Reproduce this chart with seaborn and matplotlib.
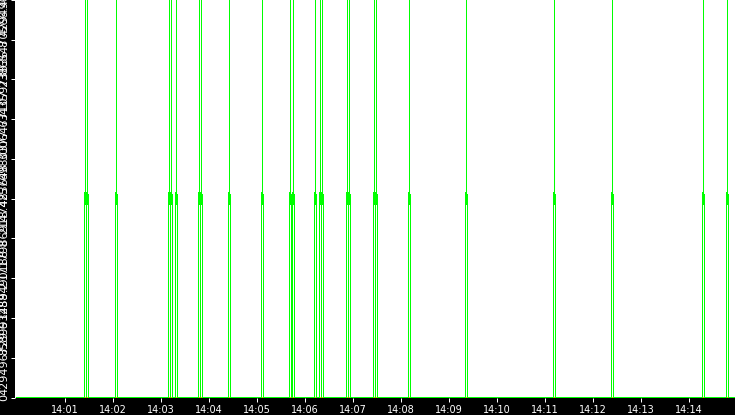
import matplotlib
matplotlib.use("Agg")
import matplotlib.pyplot as plt
import pandas as pd
import seaborn as sns

# counter value that keeps showing up as spikes (2^32)
WRAP = 4294967296

# green series: seconds after 14:00:00 and value (polled every 1.25 s)
in_sec = [0,
          85, 86.25, 87.5, 88.75, 90,
          123.75, 125, 126.25,
          190, 191.25, 192.5, 193.75, 195,
          198.75, 200, 201.25,
          227.5, 228.75, 230, 231.25, 232.5,
          265, 266.25, 267.5,
          306.25, 307.5, 308.75,
          341.25, 342.5, 343.75, 345, 346.25, 347.5,
          372.5, 373.75, 375,
          378.75, 380, 381.25, 382.5, 383.75,
          412.5, 413.75, 415, 416.25, 417.5,
          446.25, 447.5, 448.75, 450, 451.25,
          490, 491.25, 492.5,
          561.25, 562.5, 563.75,
          671.25, 672.5, 673.75,
          743.75, 745, 746.25,
          857.5, 858.75, 860,
          887.5, 888.75, 890,
          900]
in_val = [0,
          0, WRAP, 0, WRAP, 0,
          0, WRAP, 0,
          0, WRAP, 0, WRAP, 0,
          0, WRAP, 0,
          0, WRAP, 0, WRAP, 0,
          0, WRAP, 0,
          0, WRAP, 0,
          0, WRAP, 0, 0, WRAP, 0,
          0, WRAP, 0,
          0, WRAP, 0, WRAP, 0,
          0, WRAP, 0, WRAP, 0,
          0, WRAP, 0, WRAP, 0,
          0, WRAP, 0,
          0, WRAP, 0,
          0, WRAP, 0,
          0, WRAP, 0,
          0, WRAP, 0,
          0, WRAP, 0,
          0]

# orange series sits at zero the whole time
out_sec = [0, 900]
out_val = [0, 0]

x_ticks = ["14:01", "14:02", "14:03", "14:04", "14:05", "14:06", "14:07",
           "14:08", "14:09", "14:10", "14:11", "14:12", "14:13", "14:14"]
y_ticks = [0, 429496729.6, 858993459.2, 1288490188.8, 1717986918.4, 2147483648,
           2576980377.6, 3006477107.2, 3435973836.8, 3865470566.4, 4294967296]
y_labels = ["0", "429496729.6", "858993459.2", "1288490188.8", "1717986918.4", "2147483648",
            "2576980377.6", "3006477107.2", "3435973836.8", "3865470566.4", "4294967296"]

sns.set_theme(style="ticks")
plt.rcParams['font.family'] = ['DejaVu Sans']

base = pd.Timestamp("2000-01-01 14:00:00")
df_in = pd.DataFrame({"time": base + pd.to_timedelta(in_sec, unit="s"), "value": in_val})
df_out = pd.DataFrame({"time": base + pd.to_timedelta(out_sec, unit="s"), "value": out_val})

fig = plt.figure(figsize=(7.35, 4.15), dpi=100, facecolor="black")
ax = fig.add_axes([15 / 735, 17 / 415, 720 / 735, 398 / 415])
ax.set_facecolor("white")

# hairline non-antialiased strokes: each touched pixel is filled, so the
# steep spike edges come out as crisp 1px columns
sns.lineplot(data=df_out, x="time", y="value", color="#ff9900", linewidth=0.02,
             estimator=None, sort=False, antialiased=False, ax=ax)
sns.lineplot(data=df_in, x="time", y="value", color="#00ff00", linewidth=0.02,
             estimator=None, sort=False, antialiased=False, ax=ax)

ax.set_xlim(base - pd.Timedelta(seconds=1.875), base + pd.Timedelta(seconds=898.125))
ax.set_ylim(-WRAP * 0.5 / 397.5, WRAP)

ax.set_xticks([pd.Timestamp("2000-01-01 " + t) for t in x_ticks])
ax.set_xticklabels(x_ticks)
ax.set_yticks(y_ticks)
ax.set_yticklabels(y_labels, rotation=90, va="center")

ax.tick_params(colors="white", length=3, width=0.72, direction="out",
               bottom=True, left=True)
ax.tick_params(axis="x", pad=2, labelsize=7)
ax.tick_params(axis="y", pad=1.2, labelsize=8)
ax.set_xlabel("")
ax.set_ylabel("")
for s in ax.spines.values():
    s.set_visible(False)

fig.savefig("out.png", dpi=100, facecolor="black")
